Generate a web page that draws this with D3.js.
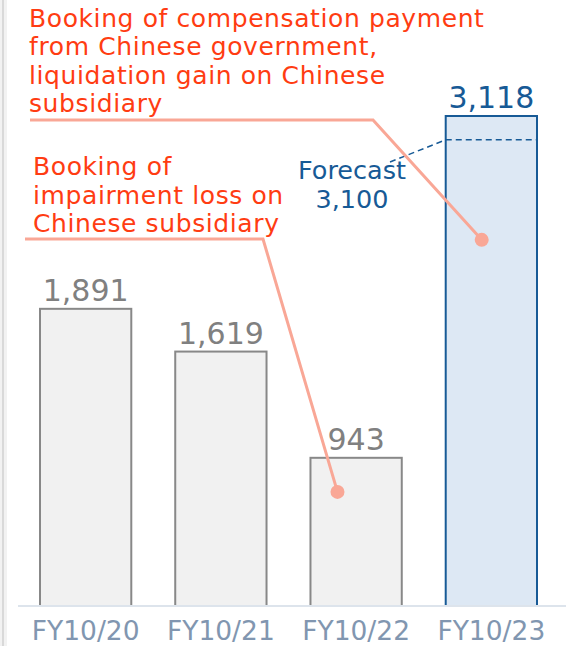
<!DOCTYPE html>
<html>
<head>
<meta charset="utf-8">
<script src="https://cdn.jsdelivr.net/npm/d3@7"></script>
<style>
  html, body { margin: 0; padding: 0; background: #fff; }
  svg { display: block; font-family: "DejaVu Sans", "Noto Sans", sans-serif; }
</style>
</head>
<body>
<svg id="chart" width="570" height="646"></svg>
<script>
// Ordinary income by fiscal year (millions of yen)
const categories = ["FY10/20", "FY10/21", "FY10/22", "FY10/23"];
const values = [1891, 1619, 943, 3118];
const valueLabels = ["1,891", "1,619", "943", "3,118"];
const forecastValue = 3100;
const forecastLabel = ["Forecast", "3,100"];
const noteCompensation = ["Booking of compensation payment", "from Chinese government,", "liquidation gain on Chinese", "subsidiary"];
const noteImpairment = ["Booking of", "impairment loss on", "Chinese subsidiary"];
// level inside each bar where an annotation leader ends
const noteCompensationAt = 2330;
const noteImpairmentAt = 726;

const svg = d3.select("#chart");

const x = d3.scaleBand().domain(categories).range([40, 537]).paddingInner(0.325).paddingOuter(0);
const y = d3.scaleLinear().domain([0, 3118]).range([606, 116]);

const RED = "#ff3c12", SALMON = "#f9a796", BLUE = "#175a96", GREY = "#888888";

// left frame
svg.append("rect").attr("x", 0).attr("y", 0).attr("width", 7).attr("height", 646).attr("fill", "#f2f2f2");
svg.append("rect").attr("x", 2).attr("y", 0).attr("width", 2).attr("height", 646).attr("fill", "#d9d9d9");

// bars
const isLast = (i) => i === categories.length - 1;
svg.selectAll("rect.bar").data(values).join("rect")
  .attr("class", "bar")
  .attr("x", (d, i) => x(categories[i]))
  .attr("y", d => y(d))
  .attr("width", x.bandwidth())
  .attr("height", d => y(0) - y(d))
  .attr("fill", (d, i) => isLast(i) ? "#dde8f4" : "#f1f1f1")
  .attr("stroke", (d, i) => isLast(i) ? BLUE : GREY)
  .attr("stroke-width", 2);

// baseline
svg.append("line").attr("x1", 18).attr("x2", 566).attr("y1", y(0)).attr("y2", y(0))
  .attr("stroke", "#dde4ec").attr("stroke-width", 2);

// value labels
svg.selectAll("text.val").data(values).join("text")
  .attr("class", "val")
  .attr("x", (d, i) => x(categories[i]) + x.bandwidth() / 2)
  .attr("y", d => y(d) - 8)
  .attr("text-anchor", "middle")
  .attr("font-size", 30)
  .attr("fill", (d, i) => isLast(i) ? BLUE : "#808080")
  .text((d, i) => valueLabels[i]);

// category labels
svg.selectAll("text.cat").data(categories).join("text")
  .attr("class", "cat")
  .attr("x", d => x(d) + x.bandwidth() / 2)
  .attr("y", 640)
  .attr("text-anchor", "middle")
  .attr("font-size", 26.5)
  .attr("fill", "#8196b0")
  .text(d => d);

// forecast marker inside last bar
const lastX = x(categories[3]);
const fy = y(forecastValue) + 21;
svg.append("path")
  .attr("d", `M390,162 L${lastX},${fy} L${lastX + x.bandwidth()},${fy}`)
  .attr("fill", "none").attr("stroke", BLUE).attr("stroke-width", 1.5)
  .attr("stroke-dasharray", "6,4");
svg.append("text").attr("text-anchor", "middle")
  .attr("font-size", 25.5).attr("fill", BLUE)
  .selectAll("tspan").data(forecastLabel).join("tspan")
  .attr("x", 352).attr("y", (d, i) => 179 + i * 29).text(d => d);

// annotation: compensation payment (FY10/23)
svg.append("text").attr("font-size", 25).attr("letter-spacing", 0.6).attr("fill", RED)
  .selectAll("tspan").data(noteCompensation).join("tspan")
  .attr("x", 29).attr("y", (d, i) => 27 + i * 28.4).text(d => d);
const c3 = x(categories[3]) + 36;
svg.append("path")
  .attr("d", `M30,120 L373,120 L${c3},${y(noteCompensationAt)}`)
  .attr("fill", "none").attr("stroke", SALMON).attr("stroke-width", 3);
svg.append("circle").attr("cx", c3).attr("cy", y(noteCompensationAt)).attr("r", 7).attr("fill", SALMON);

// annotation: impairment loss (FY10/22)
svg.append("text").attr("font-size", 25).attr("letter-spacing", 0.6).attr("fill", RED)
  .selectAll("tspan").data(noteImpairment).join("tspan")
  .attr("x", 33).attr("y", (d, i) => 175 + i * 28.6).text(d => d);
const c2 = x(categories[2]) + 27;
svg.append("path")
  .attr("d", `M25,239 L263,239 L${c2},${y(noteImpairmentAt)}`)
  .attr("fill", "none").attr("stroke", SALMON).attr("stroke-width", 3);
svg.append("circle").attr("cx", c2).attr("cy", y(noteImpairmentAt)).attr("r", 7).attr("fill", SALMON);
</script>
</body>
</html>
